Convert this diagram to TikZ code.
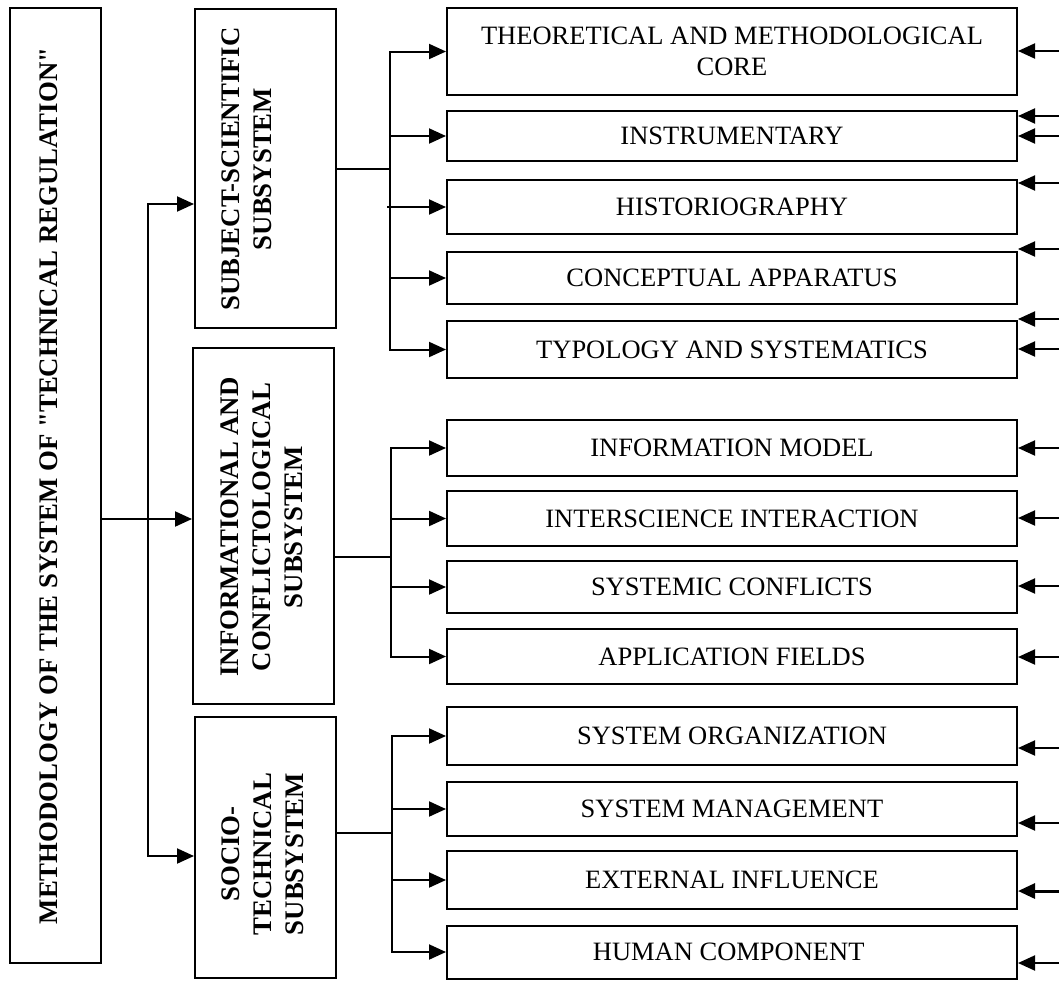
\documentclass[tikz,border=0pt]{standalone}
\usepackage{fontspec}
\setmainfont{Liberation Serif}[Ligatures=TeXOff]
\usetikzlibrary{arrows.meta}

\tikzset{
	box/.style={draw, line width=2pt, inner sep=0pt, align=center,
		font=\fontsize{26.5}{31}\selectfont},
	boldtext/.style={inner sep=0pt, align=center, rotate=90,
		font=\fontsize{26.8}{32}\selectfont\bfseries},
	line/.style={line width=2pt, line cap=rect},
	arr/.style={line width=2pt, -{Triangle[length=17pt,width=15pt]}}
}

\begin{document}
\begin{tikzpicture}[x=1pt,y=-1pt]
	\useasboundingbox (0,0) rectangle (1059,980);
	
	% left column
	\node[box, minimum width=91pt, minimum height=955pt] (main) at (55.5,485.5) {};
	\node[boldtext] (maintext) at (49,486) {METHODOLOGY OF THE SYSTEM OF "TECHNICAL REGULATION"};
	
	\node[box, minimum width=141pt, minimum height=319pt] (ss1) at (265.5,168.5) {};
	\node[box, minimum width=141pt, minimum height=356pt] (ss2) at (263.5,526) {};
	\node[box, minimum width=141pt, minimum height=261pt] (ss3) at (265.5,847.5) {};
	\node[boldtext] (ss1text) at (247,169) {SUBJECT-SCIENTIFIC\\SUBSYSTEM};
	\node[boldtext] (ss2text) at (262,527) {INFORMATIONAL AND\\CONFLICTOLOGICAL\\SUBSYSTEM};
	\node[boldtext] (ss3text) at (263,854) {SOCIO-\\TECHNICAL\\SUBSYSTEM};
	
	% right column
	\foreach \n/\y/\h/\t in {
		t1/51.5/87/{THEORETICAL AND METHODOLOGICAL\\CORE},
		t2/136/50/INSTRUMENTARY,
		t3/207/54/HISTORIOGRAPHY,
		t4/278/52/CONCEPTUAL APPARATUS,
		t5/349.5/57/TYPOLOGY AND SYSTEMATICS,
		i1/448/56/INFORMATION MODEL,
		i2/518.5/55/INTERSCIENCE INTERACTION,
		i3/587/52/SYSTEMIC CONFLICTS,
		i4/656.5/55/APPLICATION FIELDS,
		s1/736/58/SYSTEM ORGANIZATION,
		s2/809/54/SYSTEM MANAGEMENT,
		s3/880/58/EXTERNAL INFLUENCE,
		s4/952/53/HUMAN COMPONENT
	}{
		\node[box, minimum width=570pt, minimum height=\h pt] (\n) at (732,\y) {\t};
	}
	
	% main trunk
	\coordinate (m1) at (148,204);
	\coordinate (m2) at (148,519);
	\coordinate (m3) at (148,856);
	\draw[line] (m1) -- (m3);
	\draw[arr] (main.east |- m2) -- (ss2.west |- m2);
	\draw[arr] (m1) -- (m1 -| ss1.west);
	\draw[arr] (m3) -- (m3 -| ss3.west);
	
	% branches
	\coordinate (b1) at (390,168.5);
	\coordinate (b2) at (391,557);
	\coordinate (b3) at (392,833);
	\draw[line] (ss1.east) -- (b1);
	\draw[line] (ss2.east |- b2) -- (b2);
	\draw[line] (ss3.east |- b3) -- (b3);
	\draw[line] (b1 |- t1) -- (b1 |- t5);
	\draw[line] (b2 |- i1) -- (b2 |- i4);
	\draw[line] (b3 |- s1) -- (b3 |- s4);
	\foreach \n in {t1,t2,t4,t5}
		\draw[arr] (b1 |- \n.west) -- (\n.west);
	\draw[arr] ([xshift=-3pt]b1 |- t3.west) -- (t3.west);
	\foreach \n in {i1,i2,i3,i4}
		\draw[arr] (b2 |- \n.west) -- (\n.west);
	\foreach \n in {s1,s2,s3,s4}
		\draw[arr] (b3 |- \n.west) -- (\n.west);
	
	% incoming from the right
	\foreach \n/\y/\w in {
		t1/51/2, t2/116/2, t2/136/2, t3/183/2, t4/249/2, t5/319/2, t5/349/2,
		i1/448/2, i2/518/2, i3/586/2, i4/657/2,
		s1/748/2, s2/823/2, s3/891/3, s4/963/2
	}{
		\coordinate (e) at (1059,\y);
		\draw[arr, line width=\w pt] (e) -- (e -| \n.east);
	}
\end{tikzpicture}
\end{document}
